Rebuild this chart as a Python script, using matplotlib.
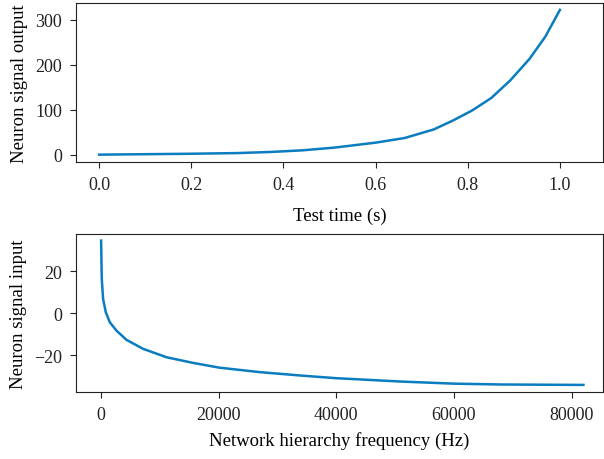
import matplotlib
matplotlib.use("Agg")
import matplotlib.pyplot as plt
import numpy as np

plt.rcParams['font.family'] = ['Liberation Serif', 'DejaVu Serif']
plt.rcParams['font.size'] = 13.5

# top panel: output vs test time
test_time = [0.0, 0.1, 0.2, 0.3, 0.373, 0.441, 0.51, 0.6, 0.663, 0.726,
             0.768, 0.809, 0.851, 0.892, 0.934, 0.968, 1.0]
signal_output = [0, 1, 2, 3.5, 6, 9.6, 15.6, 26.7, 37, 56,
                 76, 98, 126, 165, 213, 262, 322]

# bottom panel: input vs frequency
frequency = [0, 113, 340, 793, 1473, 2606, 4305, 7136, 11100, 15630,
             20160, 26960, 33800, 40000, 51000, 60000, 68000, 82000]
signal_input = [34.6, 16.3, 6.8, 0.5, -4.3, -8.3, -12.7, -17, -21, -23.7,
                -26, -28.1, -29.7, -31, -32.6, -33.6, -34, -34.2]

line_color = '#0a7cc0'

fig = plt.figure(figsize=(6.04, 4.6), dpi=100)

ax1 = fig.add_axes([0.126, 0.646, 0.872, 0.345])
ax1.plot(test_time, signal_output, color=line_color, lw=1.8)
ax1.set_xlim(-0.05, 1.093)
ax1.set_ylim(-16, 337)
ax1.set_xticks([0.0, 0.2, 0.4, 0.6, 0.8, 1.0])
ax1.set_yticks([0, 100, 200, 300])
ax1.set_xlabel('Test time (s)', labelpad=10)
ax1.set_ylabel('Neuron signal output', labelpad=5)

ax2 = fig.add_axes([0.126, 0.146, 0.872, 0.343])
ax2.plot(frequency, signal_input, color=line_color, lw=1.8)
ax2.set_xlim(-4250, 85300)
ax2.set_ylim(-37.5, 37.7)
ax2.set_xticks([0, 20000, 40000, 60000, 80000])
ax2.set_yticks([-20, 0, 20])
ax2.set_xlabel('Network hierarchy frequency (Hz)', labelpad=6)
ax2.set_ylabel('Neuron signal input', labelpad=5)

for ax in (ax1, ax2):
    ax.tick_params(direction='out', length=4, pad=6, labelsize=13,
                   colors='#222222')
    for s in ax.spines.values():
        s.set_color('#222222')

fig.savefig('out.png', dpi=100)
